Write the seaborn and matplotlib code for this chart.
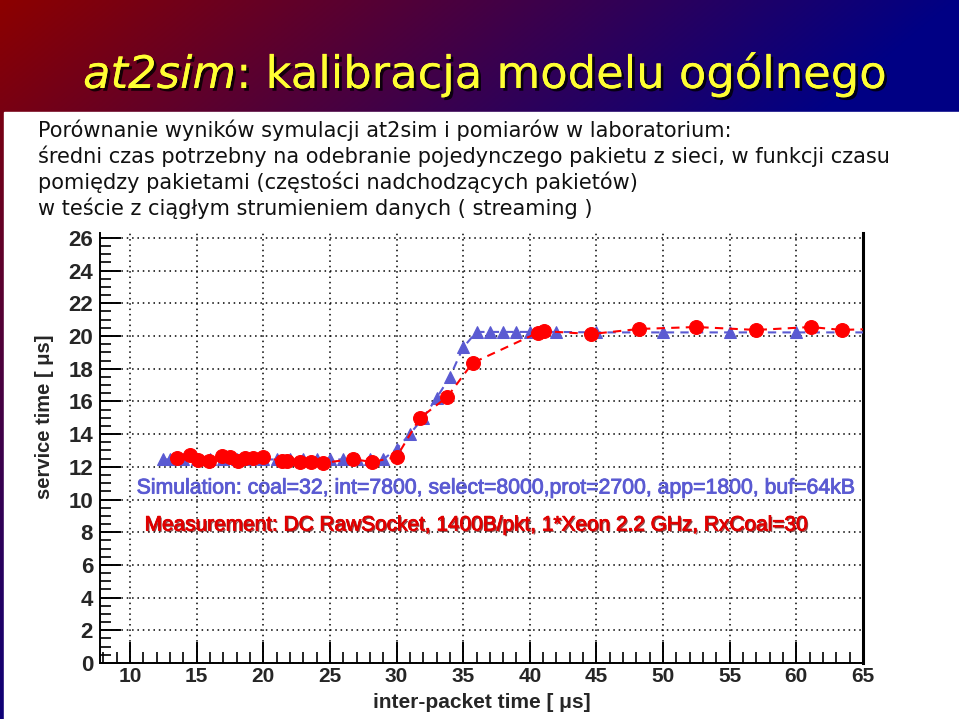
import numpy as np
import pandas as pd
import matplotlib
matplotlib.use("Agg")
import matplotlib.pyplot as plt
import matplotlib.patheffects as pe
from matplotlib.patches import Rectangle
from matplotlib.ticker import MultipleLocator
import seaborn as sns

# ---------------- data ----------------
sim_x = [12.5, 13, 14, 15, 16, 17, 18, 19, 20, 21, 22, 23, 24, 25, 26, 27, 28, 29,
         30, 31, 32, 33, 34, 35, 36, 37, 38, 39, 40, 42, 45, 50, 55, 60, 70]
sim_y = [12.45] * 18 + [13.1, 14.0, 15.0, 16.2, 17.5, 19.3,
                        20.25, 20.25, 20.25, 20.25, 20.25, 20.25, 20.22, 20.22, 20.22, 20.22, 20.22]

meas_x = [13.5, 14.5, 15.1, 15.9, 16.9, 17.5, 18.1, 18.6, 19.2, 20.0, 21.4, 21.8,
          22.75, 23.6, 24.5, 26.7, 28.15, 30.0, 31.75, 33.8, 35.7, 40.6, 41.05,
          44.6, 48.2, 52.5, 57.0, 61.1, 63.4, 66.5]
meas_y = [12.54, 12.72, 12.42, 12.35, 12.66, 12.6, 12.35, 12.54, 12.54, 12.6, 12.35, 12.35,
          12.29, 12.29, 12.23, 12.48, 12.29, 12.6, 14.98, 16.27, 18.35, 20.2, 20.3,
          20.12, 20.43, 20.55, 20.37, 20.55, 20.37, 20.45]

x_ticks = [10, 15, 20, 25, 30, 35, 40, 45, 50, 55, 60, 65]
y_ticks = [0, 2, 4, 6, 8, 10, 12, 14, 16, 18, 20, 22, 24, 26]

title_italic = "at2sim"
title_rest = ": kalibracja modelu ogólnego"
intro_lines = [
    "Porównanie wyników symulacji at2sim i pomiarów w laboratorium:",
    "średni czas potrzebny na odebranie pojedynczego pakietu z sieci, w funkcji czasu",
    "pomiędzy pakietami (częstości nadchodzących pakietów)",
    "w teście z ciągłym strumieniem danych ( streaming )",
]
sim_label = "Simulation: coal=32, int=7800, select=8000,prot=2700, app=1800, buf=64kB"
meas_label = "Measurement: DC RawSocket, 1400B/pkt, 1*Xeon 2.2 GHz, RxCoal=30"
x_label = "inter-packet time [ μs]"
y_label = "service time [ μs]"

sim_df = pd.DataFrame({"x": sim_x, "y": sim_y})
meas_df = pd.DataFrame({"x": meas_x, "y": meas_y})

# ---------------- style ----------------
sns.set_theme(style="white")
plt.rcParams['font.family'] = ['DejaVu Sans']

W, H = 959, 719
fig = plt.figure(figsize=(W / 100, H / 100), dpi=100)

# background gradient + white panel
bg = fig.add_axes([0, 0, 1, 1])
bg.set_axis_off()
xx, yy = np.meshgrid(np.linspace(0, 1, 300), np.linspace(0, 1, 240))
t = np.clip(xx * 1.0 + yy * 0.9, 0, 1)
c_red = np.array([0.55, 0.0, 0.0])
c_blue = np.array([0.0, 0.0, 0.52])
img = c_red * (1 - t)[..., None] + c_blue * t[..., None]
bg.imshow(img, extent=[0, 1, 0, 1], aspect='auto', origin='upper', zorder=0)
bg.set_xlim(0, 1)
bg.set_ylim(0, 1)
bg.add_patch(Rectangle((4 / W, 0), 1, (H - 112) / H, color='white', zorder=1))

# title
shadow = [pe.withSimplePatchShadow(offset=(2, -2), shadow_rgbFace='black', alpha=0.8), pe.Normal()]
tcol = '#ffff33'
t1 = fig.text(83 / W, 1 - 88 / H, title_italic, fontsize=32.3, style='italic', color=tcol,
              ha='left', va='baseline', path_effects=shadow)
fig.canvas.draw()
bb = t1.get_window_extent(renderer=fig.canvas.get_renderer())
fig.text(bb.x1 / W, 1 - 88 / H, title_rest, fontsize=32.3, color=tcol,
         ha='left', va='baseline', path_effects=shadow)

# intro paragraph
for i, line in enumerate(intro_lines):
    fig.text(38 / W, 1 - (137 + 26 * i) / H, line, fontsize=15, color='#111111',
             ha='left', va='baseline')

# ---------------- chart ----------------
ax = fig.add_axes([100 / W, (H - 663) / H, (863 - 100) / W, (663 - 233) / H])
ax.set_facecolor('none')

sim_col = '#5a5ad2'
meas_col = '#ff0000'
sns.lineplot(data=sim_df, x="x", y="y", ax=ax, color=sim_col, linestyle=(0, (4, 3)),
             linewidth=1.5, marker='^', markersize=9, markeredgecolor=sim_col,
             markerfacecolor=sim_col, sort=False, zorder=3)
sns.lineplot(data=meas_df, x="x", y="y", ax=ax, color=meas_col, linestyle=(0, (4, 3)),
             linewidth=1.5, marker='o', markersize=10, markeredgecolor=meas_col,
             markerfacecolor=meas_col, sort=False, zorder=4)

ax.set_xlim(7.75, 65)
ax.set_ylim(0, 26.3)
ax.set_xticks(x_ticks)
ax.set_yticks(y_ticks)
ax.xaxis.set_minor_locator(MultipleLocator(1))
ax.yaxis.set_minor_locator(MultipleLocator(0.5))
ax.tick_params(which='major', direction='in', length=15, width=1.4, color='black',
               bottom=True, left=True, top=False, right=False, pad=5)
ax.tick_params(which='minor', direction='in', length=8, width=1.2, color='black',
               bottom=True, left=True, top=False, right=False)
ax.tick_params(axis='x', which='major', pad=3)
x_tick_font = dict(family=['Liberation Sans', 'DejaVu Sans'], weight='bold', size=15)
y_tick_font = dict(family=['Liberation Sans', 'DejaVu Sans'], weight='bold', size=16)
ax.set_xticklabels([str(v) for v in x_ticks], fontdict=x_tick_font)
ax.set_yticklabels([str(v) for v in y_ticks], fontdict=y_tick_font)
ax.grid(True, which='major', color='black', linestyle=(0, (1, 2.5)), linewidth=1.1)
ax.spines['top'].set_visible(False)
for s in ['left', 'bottom']:
    ax.spines[s].set_color('black')
    ax.spines[s].set_linewidth(1.4)
ax.spines['right'].set_color('black')
ax.spines['right'].set_linewidth(2.2)
ax.set_xlabel("")
ax.set_ylabel("")

fig.text(482 / W, 1 - 703 / H, x_label, ha='center', va='center', fontsize=15,
         weight='bold', family=['Liberation Sans', 'DejaVu Sans'])
fig.text(45 / W, 1 - 417 / H, y_label, ha='center', va='center', rotation=90,
         fontsize=14.5, weight='bold', family=['Liberation Sans', 'DejaVu Sans'])

ax.text(10.5, 10.7, sim_label, color=sim_col, fontsize=15.3, ha='left', va='center',
        family=['Liberation Sans', 'DejaVu Sans'], zorder=5,
        path_effects=[pe.Stroke(linewidth=0.6, foreground=sim_col), pe.Normal()])
ax.text(11.1, 8.44, meas_label, color='#e00000', fontsize=15, ha='left', va='center',
        family=['Liberation Sans', 'DejaVu Sans'], zorder=5,
        path_effects=[pe.withSimplePatchShadow(offset=(1, -1), shadow_rgbFace='#550000', alpha=0.7),
                      pe.Stroke(linewidth=0.6, foreground='#e00000'), pe.Normal()])

fig.savefig("out.png", dpi=100)
